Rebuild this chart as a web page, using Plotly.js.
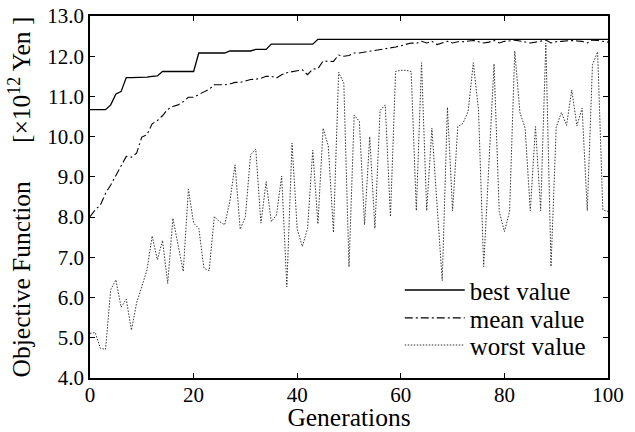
<!DOCTYPE html>
<html>
<head>
<meta charset="utf-8">
<script src="https://cdn.plot.ly/plotly-3.0.1.min.js"></script>
<style>html,body{margin:0;padding:0;background:#fff;}#chart{width:635px;height:432px;}</style>
</head>
<body>
<div id="chart"></div>
<script>
const generations = Array.from({length: 101}, (_, i) => i);

const bestValue = [
  10.67, 10.67, 10.67, 10.67, 10.79, 11.06, 11.12, 11.47, 11.47, 11.47,
  11.47, 11.48, 11.50, 11.51, 11.62, 11.62, 11.62, 11.62, 11.62, 11.62,
  11.62, 12.08, 12.08, 12.08, 12.08, 12.08, 12.08, 12.13, 12.13, 12.13,
  12.13, 12.13, 12.17, 12.17, 12.17, 12.30, 12.30, 12.30, 12.30, 12.30,
  12.30, 12.30, 12.30, 12.30, 12.42, 12.42, 12.42, 12.42, 12.42, 12.42,
  12.42, 12.42, 12.42, 12.42, 12.42, 12.42, 12.42, 12.42, 12.42, 12.42,
  12.42, 12.42, 12.42, 12.42, 12.42, 12.42, 12.42, 12.42, 12.42, 12.42,
  12.42, 12.42, 12.42, 12.42, 12.42, 12.42, 12.42, 12.42, 12.42, 12.42,
  12.42, 12.42, 12.42, 12.42, 12.42, 12.42, 12.42, 12.42, 12.42, 12.42,
  12.42, 12.42, 12.42, 12.42, 12.42, 12.42, 12.42, 12.42, 12.42, 12.42,
  12.42
];

const meanValue = [
  8.01, 8.18, 8.30, 8.59, 8.80, 9.05, 9.30, 9.51, 9.49, 9.59,
  9.99, 10.05, 10.32, 10.40, 10.52, 10.68, 10.75, 10.79, 10.87, 10.98,
  10.98, 11.04, 11.10, 11.18, 11.29, 11.29, 11.29, 11.31, 11.35, 11.35,
  11.38, 11.42, 11.43, 11.45, 11.50, 11.50, 11.46, 11.54, 11.59, 11.62,
  11.64, 11.66, 11.54, 11.68, 11.69, 11.88, 11.87, 11.87, 12.03, 12.00,
  12.02, 12.08, 12.08, 12.10, 12.12, 12.14, 12.16, 12.18, 12.20, 12.23,
  12.26, 12.30, 12.33, 12.32, 12.37, 12.33, 12.37, 12.29, 12.33, 12.37,
  12.33, 12.36, 12.36, 12.37, 12.39, 12.36, 12.33, 12.35, 12.39, 12.33,
  12.37, 12.38, 12.40, 12.38, 12.36, 12.33, 12.35, 12.37, 12.40, 12.33,
  12.36, 12.37, 12.38, 12.39, 12.38, 12.37, 12.33, 12.40, 12.39, 12.37,
  12.35
];

const worstValue = [
  5.11, 5.13, 4.74, 4.71, 6.20, 6.44, 5.76, 5.96, 5.19, 5.87,
  6.27, 6.69, 7.53, 6.94, 7.42, 6.35, 7.97, 7.35, 6.65, 8.69,
  7.85, 7.72, 6.73, 6.67, 8.01, 7.89, 7.81, 8.39, 9.30, 7.70,
  8.01, 9.55, 9.69, 7.85, 8.88, 7.89, 8.05, 9.02, 6.27, 9.84,
  7.70, 7.27, 7.72, 9.66, 7.83, 10.21, 9.77, 7.62, 11.60, 11.33,
  6.76, 10.54, 10.38, 7.81, 10.00, 7.72, 10.65, 10.79, 8.01, 11.62,
  11.65, 11.65, 11.62, 8.16, 11.84, 8.16, 10.21, 8.30, 6.42, 10.73,
  8.16, 10.25, 10.33, 10.63, 11.84, 10.67, 6.77, 9.29, 11.81, 8.14,
  7.64, 8.14, 12.13, 10.60, 10.21, 8.16, 10.25, 8.16, 12.33, 6.77,
  10.23, 10.60, 10.28, 11.16, 10.27, 10.71, 8.16, 11.79, 12.11, 8.18,
  8.14
];

const seriesNames = ['best value', 'mean value', 'worst value'];
const xTickVals = [0, 20, 40, 60, 80, 100];
const yTickVals = [4, 5, 6, 7, 8, 9, 10, 11, 12, 13];

const FONT = '"Liberation Serif", "Times New Roman", Times, serif';
const NB = '\u00A0';

const traces = [
  {x: generations, y: bestValue, name: seriesNames[0], mode: 'lines', legend: 'legend',
   line: {color: '#000', width: 1.3, dash: 'solid'}},
  {x: generations, y: meanValue, name: seriesNames[1], mode: 'lines', legend: 'legend2',
   line: {color: '#000', width: 1.1, dash: '8px,3px,2px,3px'}},
  {x: generations, y: worstValue, name: seriesNames[2], mode: 'lines', legend: 'legend3',
   line: {color: '#333', width: 1, dash: '1.5px,1.5px'}}
];

const axisCommon = {
  showgrid: false, zeroline: false, showline: true, linecolor: '#000', linewidth: 1.8,
  mirror: 'allticks', ticks: 'inside', ticklen: 5, tickwidth: 1.2, tickcolor: '#000',
  tickfont: {family: FONT, size: 21, color: '#000'}
};

function legendAt(yPaper) {
  return {x: 0.598, y: yPaper, xanchor: 'left', yanchor: 'top', bgcolor: 'rgba(0,0,0,0)',
          borderwidth: 0, itemwidth: 60, font: {family: FONT, size: 25, color: '#000'}};
}

const layout = {
  width: 635, height: 432,
  margin: {l: 90, r: 27, t: 16, b: 54},
  paper_bgcolor: '#fff', plot_bgcolor: '#fff',
  font: {family: FONT, color: '#000'},
  showlegend: true,
  legend: legendAt(0.306),
  legend2: legendAt(0.229),
  legend3: legendAt(0.154),
  xaxis: Object.assign({}, axisCommon, {
    range: [0, 100], tickvals: xTickVals, ticktext: xTickVals.map(String),
    ticklabelstandoff: -3,
    title: {text: 'Generations', font: {family: FONT, size: 25.5, color: '#000'}, standoff: 6}
  }),
  yaxis: Object.assign({}, axisCommon, {
    range: [4, 13], tickvals: yTickVals, ticktext: yTickVals.map(v => v.toFixed(1)),
    title: {text: 'Objective Function' + NB.repeat(6) + '[\u00D710<sup>12</sup> Yen ]',
            font: {family: FONT, size: 25.5, color: '#000'}, standoff: 9}
  })
};

Plotly.newPlot('chart', traces, layout, {displayModeBar: false, staticPlot: true});
</script>
</body>
</html>
